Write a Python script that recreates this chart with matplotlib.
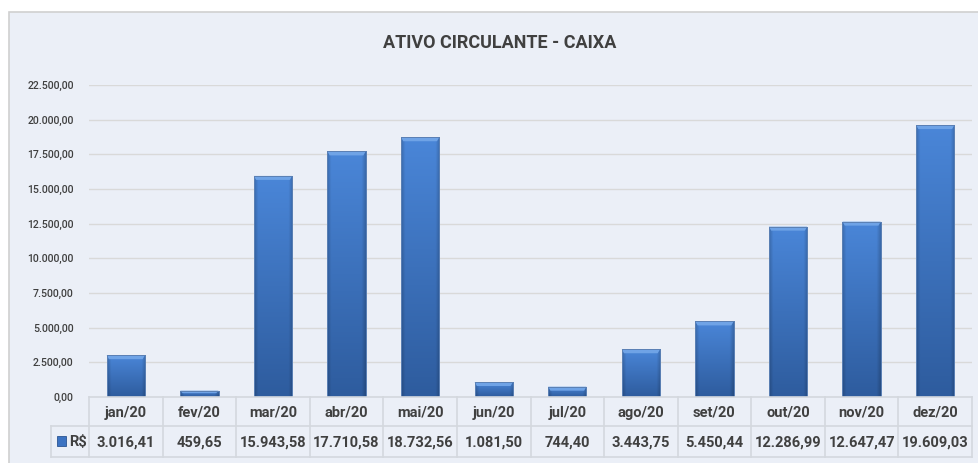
import matplotlib.pyplot as plt
import numpy as np
from matplotlib.patches import Rectangle
from matplotlib.lines import Line2D
from matplotlib.colors import to_rgb

months = ["jan/20", "fev/20", "mar/20", "abr/20", "mai/20", "jun/20",
          "jul/20", "ago/20", "set/20", "out/20", "nov/20", "dez/20"]
values = [3016.41, 459.65, 15943.58, 17710.58, 18732.56, 1081.50,
          744.40, 3443.75, 5450.44, 12286.99, 12647.47, 19609.03]
y_ticks = np.arange(0, 22501, 2500)
series_name = "R$"
title = "ATIVO CIRCULANTE - CAIXA"

W, H = 979, 463
plt.rcParams["font.family"] = ["Roboto", "DejaVu Sans"]
TXT = "#404040"


def br(v):
    """Brazilian number format: 12.345,67"""
    s = f"{v:,.2f}"
    return s.replace(",", "X").replace(".", ",").replace("X", ".")


def px(x, y):
    return x / W, (H - y) / H


def bar_image(n=64):
    """Vertical light->dark gradient with slightly darker side edges."""
    top_c = np.array(to_rgb("#4A86D8"))
    bot_c = np.array(to_rgb("#2E5C9E"))
    t = np.linspace(1, 0, n)[:, None, None]
    img = bot_c + (top_c - bot_c) * t
    u = np.linspace(-1, 1, 32)
    edge = 1 - 0.18 * np.clip((np.abs(u) - 0.8) / 0.2, 0, 1)
    img = img * edge[None, :, None]
    return np.clip(np.repeat(img, 1, axis=0) * np.ones((n, 32, 3)), 0, 1)


fig = plt.figure(figsize=(W / 100, H / 100), dpi=100)
fig.patch.set_facecolor("white")

# chart area background + border
bg = Rectangle(px(9, 12), (W + 20) / W, -(H + 20) / H, transform=fig.transFigure,
               facecolor="#EBEFF7", edgecolor="#D0D0D0", linewidth=1.2, zorder=-5)
fig.patches.append(bg)

# plot area
left, right, top, bottom = 89, 972, 85, 397
ax = fig.add_axes([left / W, (H - bottom) / H, (right - left) / W, (bottom - top) / H])
ax.set_zorder(2)
ax.set_facecolor("none")
ax.set_yticks(y_ticks)
ax.set_yticklabels([br(t) for t in y_ticks], fontsize=7.6, color=TXT,
                   fontweight="medium")
ax.tick_params(axis="y", length=0, pad=11)
ax.set_xticks([])
for s in ax.spines.values():
    s.set_visible(False)
ax.grid(axis="y", color="#D9D9D9", linewidth=1)
ax.set_axisbelow(True)

img = bar_image()
bw = 0.52
bars = ax.bar(range(len(values)), values, width=bw, color="#3C73C2",
              edgecolor="#5B80B4", linewidth=0.7, zorder=2)
bevel = 22500 / (bottom - top) * 4
for rect, v in zip(bars, values):
    x0 = rect.get_x()
    im = ax.imshow(img, aspect="auto", extent=[x0, x0 + bw, 0, v],
                   zorder=2.5, interpolation="bilinear")
    im.set_clip_path(rect)
    bh = min(bevel, v * 0.4)
    ax.fill([x0, x0 + bw, x0 + bw * 0.94, x0 + bw * 0.06],
            [v, v, v - bh, v - bh], color="#6FA3E6", zorder=3, lw=0)
    ax.plot([x0, x0 + bw, x0 + bw, x0, x0], [0, 0, v, v, 0],
            color="#5B80B4", lw=0.7, zorder=3.5)
ax.set_xlim(-0.5, len(months) - 0.5)
ax.set_ylim(0, 22500)

fig.text(*px(500, 43), title, ha="center", va="center", fontsize=13,
         fontweight="bold", color=TXT)

# data table
row1, row2, row3 = 397, 426, 457
tbl_left = 51
cw = (right - left) / len(months)
lc = "#D4D8DE"
lines = [
    ([left, right], [row1, row1]),
    ([tbl_left, right], [row2, row2]),
    ([tbl_left, right], [row3, row3]),
    ([tbl_left, tbl_left], [row2, row3]),
]
for i in range(len(months) + 1):
    x = left + i * cw
    lines.append(([x, x], [row1, row3]))
for xs, ys in lines:
    fig.lines.append(Line2D([a / W for a in xs], [(H - b) / H for b in ys],
                            transform=fig.transFigure, color=lc, lw=1.2))

for i, (m, v) in enumerate(zip(months, values)):
    cx = left + (i + 0.5) * cw
    fig.text(*px(cx, (row1 + row2) / 2 + 1), m, ha="center", va="center",
             fontsize=10.5, fontweight="bold", color=TXT)
    fig.text(*px(cx, (row2 + row3) / 2 + 1), br(v), ha="center", va="center",
             fontsize=10.5, fontweight="bold", color=TXT)

key = Rectangle(px(57, 446), 9 / W, 10 / H, transform=fig.transFigure,
                facecolor="#3C73C2", edgecolor="#2A5592", lw=0.6)
fig.patches.append(key)
fig.text(*px(69, (row2 + row3) / 2 + 1), series_name, ha="left", va="center",
         fontsize=10.5, fontweight="bold", color=TXT)

fig.savefig("out.png", dpi=100)
